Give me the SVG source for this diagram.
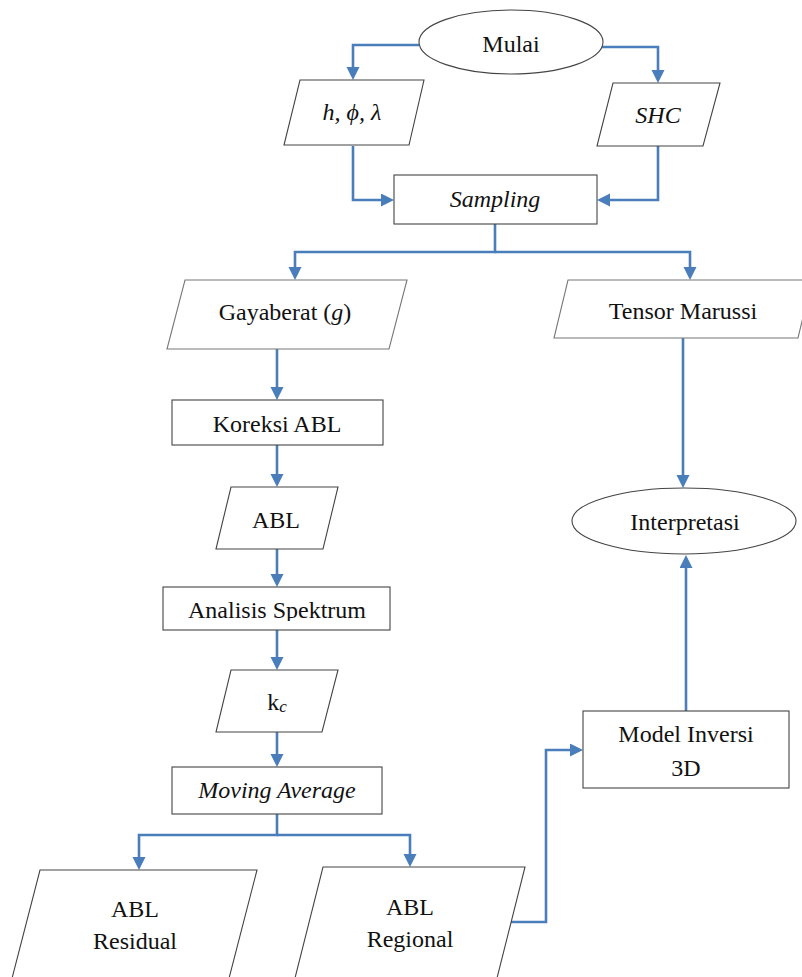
<svg xmlns="http://www.w3.org/2000/svg" width="802" height="977" viewBox="0 0 802 977">
<style>
.shape{fill:#fff;stroke:#444;stroke-width:1.1}
.lt{stroke:#777}
.conn{fill:none;stroke:#4a7ebb;stroke-width:2.6;marker-end:url(#ah)}
text{font-family:"Liberation Serif","Times New Roman",serif;font-size:24px;fill:#111;text-anchor:middle}
.it{font-style:italic}
</style>
<defs>
<marker id="ah" markerUnits="userSpaceOnUse" markerWidth="14" markerHeight="14" refX="9" refY="6.5" orient="auto">
<path d="M0,0 L13,6.5 L0,13 z" fill="#4a7ebb"/>
</marker>
<clipPath id="clipAS"><rect x="160" y="585" width="235" height="36"/></clipPath>
</defs>
<rect width="802" height="977" fill="#fff"/>
<g id="connectors">
<path class="conn" d="M419,45 H353 V76"/>
<path class="conn" d="M602,47 H658 V79"/>
<path class="conn" d="M353,146 V200 H390"/>
<path class="conn" d="M658,146 V200 H601"/>
<path class="conn" d="M495,224 V252 H295 V276"/>
<path class="conn" d="M495,252 H690 V276"/>
<path class="conn" d="M277,349 V396"/>
<path class="conn" d="M277,445 V483"/>
<path class="conn" d="M277,549 V583"/>
<path class="conn" d="M277,630 V666"/>
<path class="conn" d="M277,732 V763"/>
<path class="conn" d="M277,814 V835 H139 V866"/>
<path class="conn" d="M277,835 H410 V863"/>
<path class="conn" d="M511,922 H546 V750 H579"/>
<path class="conn" d="M683,338 V484"/>
<path class="conn" d="M686,711 V559"/>
</g>
<g id="mulai"><ellipse class="shape" cx="511" cy="42" rx="92" ry="32"/><text x="511" y="52">Mulai</text></g>
<g id="input-hpl"><polygon class="shape" points="300,80 424,80 409,145 284,145"/><text class="it" x="352" y="120">h, ϕ, λ</text></g>
<g id="input-shc"><polygon class="shape" points="613,83 720,83 703,146 597,146"/><text class="it" x="658" y="123">SHC</text></g>
<g id="sampling"><rect class="shape" x="394" y="175" width="203" height="49"/><text class="it" x="495" y="207">Sampling</text></g>
<g id="gayaberat"><polygon class="shape lt" points="185,280 407,280 389,349 167,349"/><text x="285" y="320">Gayaberat (<tspan class="it">g</tspan>)</text></g>
<g id="tensor"><polygon class="shape lt" points="568,280 812,280 798,338 554,338"/><text x="683" y="319">Tensor Marussi</text></g>
<g id="koreksi"><rect class="shape" x="172" y="400" width="211" height="45"/><text x="277" y="432">Koreksi ABL</text></g>
<g id="abl"><polygon class="shape" points="231,487 338,487 323,549 216,549"/><text x="276" y="528">ABL</text></g>
<g id="interpretasi"><ellipse class="shape" cx="684" cy="521" rx="112" ry="33"/><text x="685" y="530">Interpretasi</text></g>
<g id="analisis"><rect class="shape" x="163" y="587" width="227" height="43"/><text x="277" y="618" clip-path="url(#clipAS)">Analisis Spektrum</text></g>
<g id="kc"><polygon class="shape" points="231,670 338,670 322,732 216,732"/><text x="277" y="710">k<tspan class="it" font-size="17" dy="2">c</tspan></text></g>
<g id="moving"><rect class="shape" x="172" y="767" width="210" height="47"/><text class="it" x="277" y="798">Moving Average</text></g>
<g id="model"><rect class="shape" x="583" y="711" width="206" height="77"/><text x="686" y="742">Model Inversi</text><text x="686" y="776">3D</text></g>
<g id="residual"><polygon class="shape" points="40,870 257,870 226,990 9,990"/><text x="135" y="917">ABL</text><text x="135" y="949">Residual</text></g>
<g id="regional"><polygon class="shape" points="323,867 525,867 494,990 292,990"/><text x="410" y="915">ABL</text><text x="410" y="947">Regional</text></g>
</svg>
